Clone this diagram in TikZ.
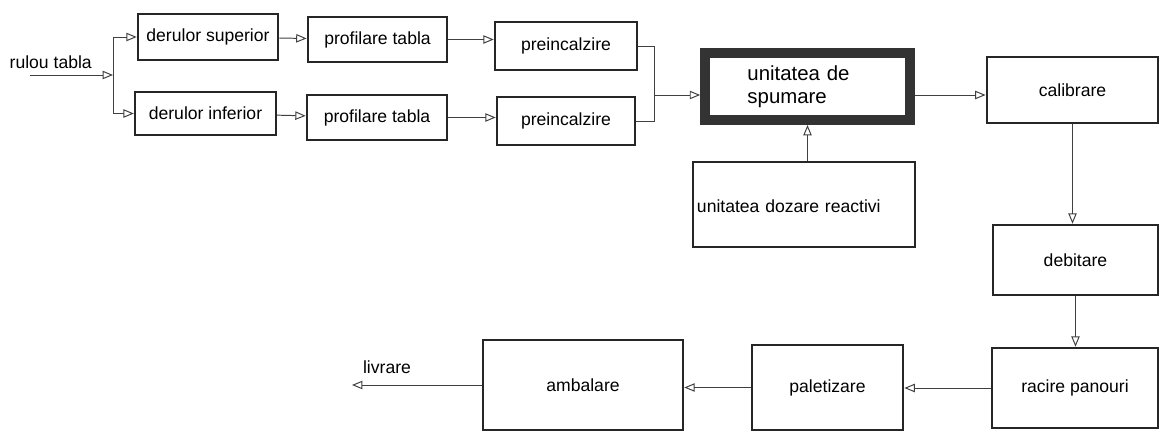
\documentclass[tikz,border=0pt]{standalone}
\usepackage{fontspec}
\setmainfont{Liberation Sans}
\usepackage{tikz}
\usetikzlibrary{arrows.meta, calc}
\tikzset{
  procbox/.style = {rectangle, draw=black!85, line width=1.8pt, align=center, inner sep=2pt, font=\fontsize{12.5}{15}\selectfont},
  mainbox/.style = {procbox, line width=7pt, draw=black!80, align=left, font=\fontsize{14.5}{16}\selectfont},
  flow/.style = {draw=black!75, line width=0.7pt, -{Triangle[open, length=2.6mm, width=2.1mm, line width=0.7pt]}},
  link/.style = {draw=black!75, line width=0.7pt},
  lbl/.style = {font=\fontsize{12.5}{15}\selectfont, inner sep=1pt}
}
\begin{document}
\begin{tikzpicture}[x=0.025cm, y=-0.025cm]
    \useasboundingbox (0,0) rectangle (1160,432);
    % upper and lower lines of tabla
    \node[procbox, minimum width=3.5cm, minimum height=1.15cm] (dsup) at (208,37) {derulor superior};
    \node[procbox, minimum width=3.52cm, minimum height=1.08cm] (dinf) at (205.5,113.5) {derulor inferior};
    \node[procbox, minimum width=3.48cm, minimum height=1.12cm] (psup) at (377.5,39.5) {profilare tabla};
    \node[procbox, minimum width=3.5cm, minimum height=1.12cm] (pinf) at (377,117.5) {profilare tabla};
    \node[procbox, minimum width=3.55cm, minimum height=1.2cm] (isup) at (566,46) {preincalzire};
    \node[procbox, minimum width=3.45cm, minimum height=1.2cm] (iinf) at (566,121) {preincalzire};
    % spumare
    \node[mainbox, minimum width=5.12cm, minimum height=1.68cm, text width=3.0cm] (spum) at (807.5,86.5) {unitatea de\\spumare};
    \node[procbox, minimum width=5.55cm, minimum height=2.12cm, text width=5.35cm, align=left] (doz) at (804,204.5) {\mbox{}\\[-3pt]unitatea dozare reactivi};
    % right column and bottom row
    \node[procbox, minimum width=4.28cm, minimum height=1.65cm] (cal) at (1072.5,90) {calibrare};
    \node[procbox, minimum width=4.12cm, minimum height=1.75cm] (deb) at (1075.5,260) {debitare};
    \node[procbox, minimum width=4.15cm, minimum height=2.0cm] (rac) at (1075,388) {racire panouri};
    \node[procbox, minimum width=3.78cm, minimum height=2.12cm] (pal) at (827.5,387.5) {paletizare};
    \node[procbox, minimum width=5.0cm, minimum height=2.25cm] (amb) at (583,385) {ambalare};

    \coordinate (in) at (30,75);
    \coordinate (split) at (113,75);
    \coordinate (merge) at (654,95);
    \coordinate (out) at (352,385);
    \node[lbl, anchor=west] (rulou) at (8,62) {rulou tabla};
    \node[lbl] (livr) at (387,367) {livrare};

    \draw[flow] (in) -- (split);
    \draw[flow] (split) |- (dsup.west);
    \draw[flow] (split) |- (dinf.west);
    \draw[flow] (dsup) -- (psup);
    \draw[flow] (dinf) -- (pinf);
    \draw[flow] (psup.east) -- (psup.east -| isup.west);
    \draw[flow] (pinf.east) -- (pinf.east -| iinf.west);
    \draw[link] (isup.east) -| (merge);
    \draw[link] (iinf.east) -| (merge);
    \draw[flow] (merge) -- (merge -| spum.west);
    \draw[flow] (spum.east |- merge) -- (cal.west |- merge);
    \draw[flow] (doz.north -| spum.south) -- (spum.south);
    \draw[flow] (cal.south) -- (cal.south |- deb.north);
    \draw[flow] (deb.south) -- (deb.south |- rac.north);
    \draw[flow] (rac.west) -- (rac.west -| pal.east);
    \draw[flow] (pal.west) -- (pal.west -| amb.east);
    \draw[flow] (amb.west) -- (out);
\end{tikzpicture}
\end{document}
